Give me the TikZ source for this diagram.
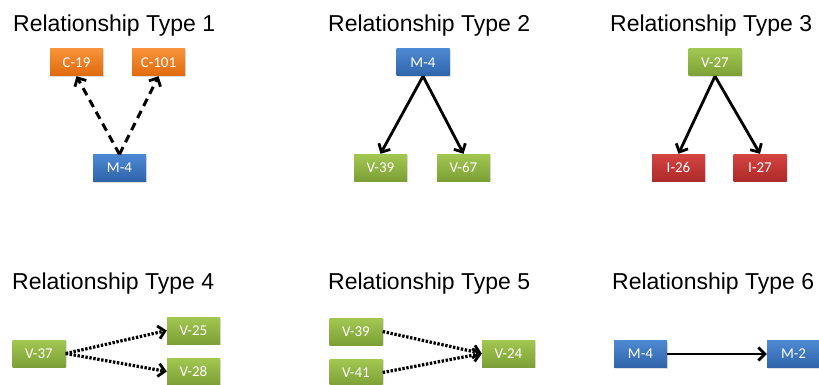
\documentclass[tikz,border=0pt]{standalone}
\usepackage{fontspec}
\setmainfont{Liberation Sans}
\newfontfamily\boxfont{Carlito}
\usetikzlibrary{arrows.meta,shadows}
\definecolor{orT}{HTML}{F79239}
\definecolor{orB}{HTML}{E06A0E}
\definecolor{blT}{HTML}{4D89D2}
\definecolor{blB}{HTML}{2F64AA}
\definecolor{grT}{HTML}{A2C751}
\definecolor{grB}{HTML}{7CA036}
\definecolor{rdT}{HTML}{D44442}
\definecolor{rdB}{HTML}{AE2B29}
\tikzset{
  box/.style={minimum width=53pt,minimum height=27pt,inner sep=0pt,
    text=white,font=\boxfont\fontsize{15}{17}\selectfont,
    drop shadow={opacity=0.25,shadow xshift=1pt,shadow yshift=-1.2pt}},
  orbox/.style={box,top color=orT,bottom color=orB},
  blbox/.style={box,top color=blT,bottom color=blB},
  grbox/.style={box,top color=grT,bottom color=grB},
  rdbox/.style={box,top color=rdT,bottom color=rdB},
  title/.style={anchor=base west,inner sep=0pt,font=\fontsize{23}{26}\selectfont},
  tip/.style={-{Straight Barb[length=6.5pt,width=13pt,line width=2.8pt]}},
  solidarrow/.style={tip,line width=2.8pt},
  dasharrow/.style={tip,line width=3pt,dash pattern=on 8pt off 5.5pt},
  dotarrow/.style={tip,line width=3.2pt,dash pattern=on 2.4pt off 1.6pt},
}
\begin{document}
\begin{tikzpicture}[x=1pt,y=-1pt]
\useasboundingbox (0,0) rectangle (819,385);
% titles
\node[title] (t1) at (13,32) {Relationship Type 1};
\node[title] (t2) at (328,32) {Relationship Type 2};
\node[title] (t3) at (610,32) {Relationship Type 3};
\node[title] (t4) at (12,289) {Relationship Type 4};
\node[title] (t5) at (328,289) {Relationship Type 5};
\node[title] (t6) at (612,289) {Relationship Type 6};
% type 1
\node[orbox] (c19) at (76.5,62.5) {C-19};
\node[orbox] (c101) at (158.5,62.5) {C-101};
\node[blbox] (m4a) at (119.5,168) {M-4};
\draw[dasharrow] (m4a.north) -- (c19.south);
\draw[dasharrow] (m4a.north) -- (c101.south);
% type 2
\node[blbox] (m4b) at (423,62.5) {M-4};
\node[grbox] (v39a) at (380.5,167.5) {V-39};
\node[grbox] (v67) at (463.5,167.5) {V-67};
\draw[solidarrow] (m4b.south) -- (v39a.north);
\draw[solidarrow] (m4b.south) -- (v67.north);
% type 3
\node[grbox] (v27) at (715,62.5) {V-27};
\node[rdbox] (i26) at (678.5,167.5) {I-26};
\node[rdbox] (i27) at (760,167.5) {I-27};
\draw[solidarrow] (v27.south) -- (i26.north);
\draw[solidarrow] (v27.south) -- (i27.north);
% type 4
\node[grbox] (v37) at (39,353.5) {V-37};
\node[grbox] (v25) at (193.5,330.5) {V-25};
\node[grbox] (v28) at (193.5,371.5) {V-28};
\draw[dotarrow] (v37.east) -- (v25.west);
\draw[dotarrow] (v37.east) -- (v28.west);
% type 5
\node[grbox] (v39b) at (356,331.5) {V-39};
\node[grbox] (v41) at (356,372.5) {V-41};
\node[grbox] (v24) at (508.5,353.5) {V-24};
\draw[dotarrow] (v39b.east) -- (v24.west);
\draw[dotarrow] (v41.east) -- (v24.west);
% type 6
\node[blbox] (m4c) at (640.5,354) {M-4};
\node[blbox] (m2) at (793.5,354) {M-2};
\draw[solidarrow] (m4c.east) -- (m2.west);
\end{tikzpicture}
\end{document}
